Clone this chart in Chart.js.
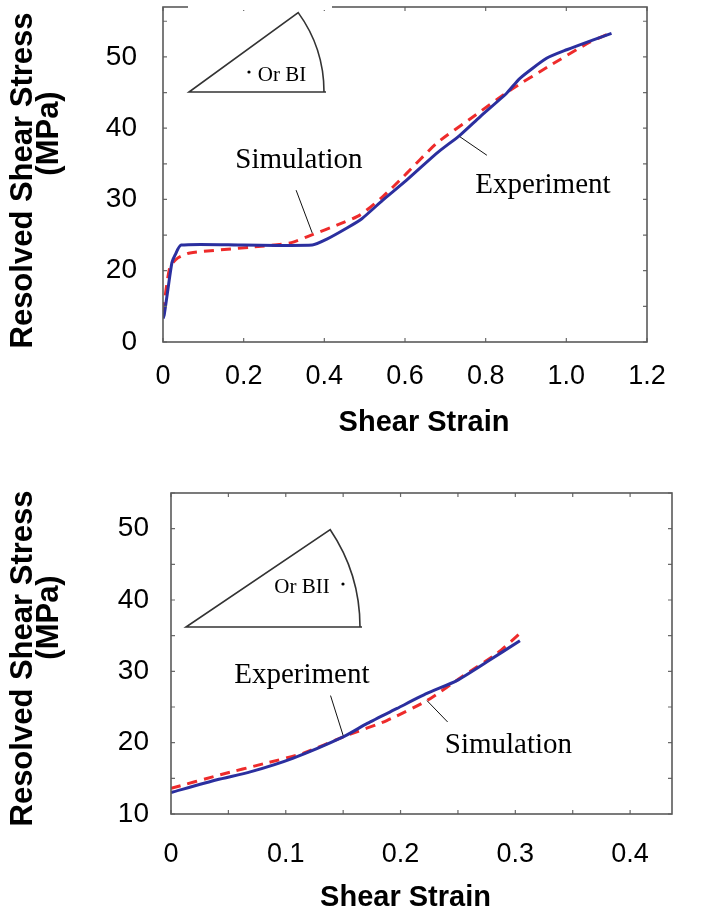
<!DOCTYPE html>
<html>
<head>
<meta charset="utf-8">
<script src="https://cdn.jsdelivr.net/npm/chart.js@4.4.1/dist/chart.umd.min.js"></script>
<style>
  html, body { margin: 0; padding: 0; background: #fff; }
  #wrap { position: relative; width: 717px; height: 916px; overflow: hidden; }
  canvas { position: absolute; left: 0; }
  #cTop { top: 0; }
  #cBot { top: 460px; }
</style>
</head>
<body>
<div id="wrap">
  <canvas id="cTop" width="717" height="460"></canvas>
  <canvas id="cBot" width="717" height="456"></canvas>
</div>
<script>
// ---- Orientation BI : resolved shear stress (MPa) vs shear strain ----
const orBIStrainExp = [0.0, 0.003, 0.012, 0.022, 0.030, 0.045, 0.20, 0.37, 0.405, 0.456, 0.493, 0.545, 0.604, 0.679, 0.736, 0.786, 0.852, 0.885, 0.951, 1.001, 1.067, 1.112];
const orBIStressExp = [13.3, 13.8, 17.3, 21.1, 22.2, 23.6, 23.6, 23.6, 24.4, 26.0, 27.3, 29.9, 32.7, 36.5, 39.0, 41.6, 44.9, 47.0, 49.8, 51.0, 52.4, 53.3];
const orBIStrainSim = [0.0, 0.017, 0.037, 0.067, 0.216, 0.315, 0.372, 0.431, 0.488, 0.545, 0.596, 0.679, 0.769, 0.860, 0.960, 1.059, 1.108];
const orBIStressSim = [14.2, 20.5, 21.8, 22.5, 23.3, 23.9, 25.1, 26.4, 27.8, 30.4, 33.2, 37.9, 41.6, 45.3, 48.8, 52.1, 53.3];

// ---- Orientation BII ----
const orBIIStrainExp = [0.0, 0.040, 0.069, 0.106, 0.150, 0.171, 0.197, 0.223, 0.249, 0.275, 0.304];
const orBIIStressExp = [13.0, 14.8, 15.9, 17.8, 20.8, 22.7, 24.8, 26.9, 28.7, 31.3, 34.3];
const orBIIStrainSim = [0.0, 0.043, 0.082, 0.115, 0.153, 0.188, 0.223, 0.255, 0.284, 0.304];
const orBIIStressSim = [13.6, 15.5, 17.1, 18.5, 21.0, 23.1, 25.9, 29.4, 32.5, 35.3];

// ---- Tick labels ----
const topXTickValues = [0, 0.2, 0.4, 0.6, 0.8, 1.0, 1.2];
const topXTickLabels = ['0', '0.2', '0.4', '0.6', '0.8', '1.0', '1.2'];
const topYTickValues = [10, 20, 30, 40, 50];
const topYTickLabels = ['0', '20', '30', '40', '50'];
const botXTickValues = [0, 0.1, 0.2, 0.3, 0.4];
const botXTickLabels = ['0', '0.1', '0.2', '0.3', '0.4'];
const botYTickValues = [10, 20, 30, 40, 50];
const botYTickLabels = ['10', '20', '30', '40', '50'];

const xTitle = 'Shear Strain';
const yTitle = ['Resolved Shear Stress', '(MPa)'];

const EXP_COLOR = '#2b2f9f';
const SIM_COLOR = '#ee2b2b';

function pairs(xs, ys) { return xs.map((x, i) => ({ x: x, y: ys[i] })); }
function labeller(values, labels) {
  return function (v) {
    for (let i = 0; i < values.length; i++) if (Math.abs(values[i] - v) < 1e-6) return labels[i];
    return '';
  };
}
function noPadding(s) { s.paddingTop = 0; s.paddingBottom = 0; s.paddingLeft = 0; s.paddingRight = 0; }

// Frame, inward tick marks, inset wedge, callouts and axis titles
const decor = {
  id: 'decor',
  afterDraw(chart, args, o) {
    const { ctx, chartArea: a, scales } = chart;
    const sx = scales.x, sy = scales.y;
    ctx.save();
    // tick marks on all four sides
    ctx.strokeStyle = '#6a6a6a';
    ctx.lineWidth = 1.2;
    const tl = 4;
    sx.ticks.forEach(t => {
      const px = sx.getPixelForValue(t.value);
      ctx.beginPath();
      ctx.moveTo(px, a.bottom); ctx.lineTo(px, a.bottom - tl);
      ctx.moveTo(px, a.top); ctx.lineTo(px, a.top + tl);
      ctx.stroke();
    });
    sy.ticks.forEach(t => {
      const py = sy.getPixelForValue(t.value);
      ctx.beginPath();
      ctx.moveTo(a.left, py); ctx.lineTo(a.left + tl, py);
      ctx.moveTo(a.right, py); ctx.lineTo(a.right - tl, py);
      ctx.stroke();
    });
    // frame
    ctx.strokeStyle = '#5a5a5a';
    ctx.lineWidth = 1.6;
    ctx.strokeRect(a.left, a.top, a.right - a.left, a.bottom - a.top);
    // blank strip behind the inset
    if (o.blank) {
      ctx.fillStyle = '#fff';
      ctx.fillRect(a.left + o.blank[0], 0, o.blank[1] - o.blank[0], a.top + 3);
    }
    // inset wedge
    const w = o.wedge;
    const cx = a.left + w.cx, cy = a.top + w.cy;
    ctx.strokeStyle = '#333';
    ctx.lineWidth = 1.6;
    ctx.beginPath();
    ctx.moveTo(cx + w.r + 2, cy);
    ctx.lineTo(cx, cy);
    ctx.lineTo(cx + w.r * Math.cos(w.ang), cy - w.r * Math.sin(w.ang));
    ctx.arc(cx, cy, w.r, -w.ang, 0, false);
    ctx.stroke();
    ctx.fillStyle = '#000';
    ctx.font = '21px "Liberation Serif", "Times New Roman", serif';
    ctx.textAlign = 'center';
    ctx.textBaseline = 'middle';
    ctx.fillText(w.label, a.left + w.tx, a.top + w.ty);
    ctx.beginPath();
    ctx.arc(a.left + w.dx, a.top + w.dy, 1.6, 0, Math.PI * 2);
    ctx.fill();
    // callouts
    ctx.font = '29px "Liberation Serif", "Times New Roman", serif';
    o.callouts.forEach(c => {
      ctx.strokeStyle = '#111';
      ctx.lineWidth = 1;
      ctx.beginPath();
      ctx.moveTo(sx.getPixelForValue(c.from[0]), sy.getPixelForValue(c.from[1]));
      ctx.lineTo(sx.getPixelForValue(c.to[0]), sy.getPixelForValue(c.to[1]));
      ctx.stroke();
      ctx.fillText(c.text, sx.getPixelForValue(c.at[0]), sy.getPixelForValue(c.at[1]));
    });
    // axis titles
    ctx.font = 'bold 29px "Liberation Sans", Arial, sans-serif';
    ctx.fillText(xTitle, (a.left + a.right) / 2 + o.xt[0], a.bottom + o.xt[1]);
    ctx.font = 'bold 31px "Liberation Sans", Arial, sans-serif';
    const midY = (a.top + a.bottom) / 2;
    yTitle.forEach((line, i) => {
      ctx.save();
      ctx.translate(o.yt[i][0], midY + o.yt[i][1]);
      ctx.rotate(-Math.PI / 2);
      ctx.fillText(line, 0, 0);
      ctx.restore();
    });
    ctx.restore();
  }
};

function makeChart(id, cfg) {
  return new Chart(document.getElementById(id), {
    type: 'scatter',
    data: {
      datasets: [
        { label: 'Experiment', data: cfg.exp, showLine: true, borderColor: EXP_COLOR, borderWidth: 3, pointRadius: 0, tension: 0.2, fill: false },
        { label: 'Simulation', data: cfg.sim, showLine: true, borderColor: SIM_COLOR, borderWidth: 3, borderDash: [10, 7], pointRadius: 0, tension: 0.2, fill: false }
      ]
    },
    options: {
      responsive: false,
      animation: false,
      devicePixelRatio: 1,
      layout: { padding: cfg.padding, autoPadding: false },
      plugins: { legend: { display: false }, tooltip: { enabled: false }, decor: cfg.decor },
      scales: {
        x: {
          type: 'linear', min: cfg.x.min, max: cfg.x.max,
          afterFit: s => { s.height = cfg.x.h; noPadding(s); },
          grid: { display: false, drawTicks: false }, border: { display: false },
          ticks: { stepSize: cfg.x.step, includeBounds: false, autoSkip: false, maxRotation: 0, padding: cfg.x.pad,
                   color: '#000', font: { family: '"Liberation Sans", Arial, sans-serif', size: 27 },
                   callback: labeller(cfg.x.vals, cfg.x.labels) }
        },
        y: {
          type: 'linear', min: cfg.y.min, max: cfg.y.max,
          afterFit: s => { s.width = cfg.y.w; noPadding(s); },
          grid: { display: false, drawTicks: false }, border: { display: false },
          ticks: { stepSize: 5, includeBounds: false, autoSkip: false, padding: cfg.y.pad,
                   color: '#000', font: { family: '"Liberation Sans", Arial, sans-serif', size: 28 },
                   callback: labeller(cfg.y.vals, cfg.y.labels) }
        }
      }
    },
    plugins: [decor]
  });
}

makeChart('cTop', {
  exp: pairs(orBIStrainExp, orBIStressExp),
  sim: pairs(orBIStrainSim, orBIStressSim),
  padding: { top: 7, right: 70, left: 0, bottom: 0 },
  x: { min: 0, max: 1.2, step: 0.2, h: 118, pad: 18, vals: topXTickValues, labels: topXTickLabels },
  y: { min: 10, max: 57, w: 163, pad: 26, vals: topYTickValues, labels: topYTickLabels },
  decor: {
    blank: [25, 169],
    wedge: { cx: 26, cy: 85, r: 135, ang: 36 * Math.PI / 180, label: 'Or BI', tx: 119, ty: 68, dx: 86, dy: 65 },
    callouts: [
      { text: 'Simulation', at: [0.337, 35.5], from: [0.330, 31.3], to: [0.370, 25.3] },
      { text: 'Experiment', at: [0.942, 32.0], from: [0.803, 36.2], to: [0.736, 38.8] }
    ],
    xt: [19, 81],
    yt: [[23, 6], [49, -41]]
  }
});

makeChart('cBot', {
  exp: pairs(orBIIStrainExp, orBIIStressExp),
  sim: pairs(orBIIStrainSim, orBIIStressSim),
  padding: { top: 33, right: 45, left: 0, bottom: 0 },
  x: { min: 0, max: 0.4365, step: 0.05, h: 102, pad: 24, vals: botXTickValues, labels: botXTickLabels },
  y: { min: 10, max: 55, w: 171, pad: 22, vals: botYTickValues, labels: botYTickLabels },
  decor: {
    blank: null,
    wedge: { cx: 15, cy: 134, r: 174, ang: 34 * Math.PI / 180, label: 'Or BII', tx: 131, ty: 94, dx: 172, dy: 91 },
    callouts: [
      { text: 'Experiment', at: [0.114, 29.4], from: [0.139, 26.6], to: [0.150, 21.0] },
      { text: 'Simulation', at: [0.294, 19.65], from: [0.223, 25.9], to: [0.241, 22.9] }
    ],
    xt: [-16, 84],
    yt: [[23, 5], [49, -36]]
  }
});
</script>
</body>
</html>
